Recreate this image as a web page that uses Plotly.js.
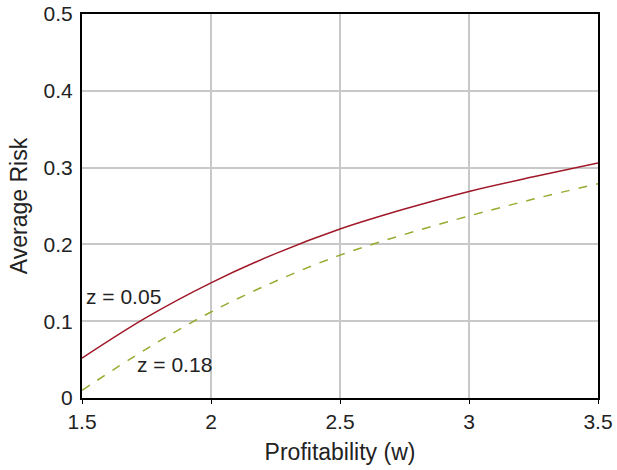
<!DOCTYPE html>
<html><head><meta charset="utf-8">
<script src="https://cdn.plot.ly/plotly-3.0.1.min.js"></script>
<style>body{margin:0;background:#fff}#c{width:617px;height:470px}</style>
</head><body><div id="c"></div>
<script>
const w = [1.5, 1.75, 2.0, 2.25, 2.5, 2.75, 3.0, 3.25, 3.5];
const riskZ005 = [0.052, 0.105, 0.150, 0.188, 0.220, 0.246, 0.269, 0.288, 0.306];
const riskZ018 = [0.010, 0.064, 0.112, 0.152, 0.186, 0.213, 0.237, 0.259, 0.279];
const labels = ["z = 0.05", "z = 0.18"];
const xTicks = [1.5, 2, 2.5, 3, 3.5];
const xTickText = ["1.5", "2", "2.5", "3", "3.5"];
const yTicks = [0, 0.1, 0.2, 0.3, 0.4, 0.5];
const yTickText = ["0", "0.1", "0.2", "0.3", "0.4", "0.5"];
const F = "Liberation Sans, Arial, sans-serif";
const traces = [
  {x: w, y: riskZ005, mode: "lines", line: {color: "#a01828", width: 1.5, shape: "spline"}, name: labels[0]},
  {x: w, y: riskZ018, mode: "lines", line: {color: "#9aaa30", width: 1.5, dash: "dash", shape: "spline"}, name: labels[1]}
];
const layout = {
  width: 617, height: 470,
  margin: {l: 82, r: 19, t: 14, b: 72},
  showlegend: false,
  paper_bgcolor: "#fff", plot_bgcolor: "#fff",
  font: {family: F, size: 21, color: "#222"},
  xaxis: {range: [1.5, 3.5], tickvals: xTicks, ticktext: xTickText, tickfont: {size: 21},
    showgrid: true, gridcolor: "#c8c8c8", gridwidth: 1.5, showline: true, linecolor: "#000", linewidth: 2, mirror: true,
    ticks: "outside", ticklen: 4, tickcolor: "#000", zeroline: false,
    title: {text: "Profitability (w)", font: {size: 23}, standoff: 12}},
  yaxis: {range: [0, 0.5], tickvals: yTicks, ticktext: yTickText, tickfont: {size: 21}, ticklabelstandoff: 3,
    showgrid: true, gridcolor: "#c8c8c8", gridwidth: 1.5, showline: true, linecolor: "#000", linewidth: 2, mirror: true,
    ticks: "", zeroline: false,
    title: {text: "Average Risk", font: {size: 23}, standoff: 10}},
  annotations: [
    {x: 1.5, y: 0.132, xref: "x", yref: "y", text: labels[0], showarrow: false, xanchor: "left", xshift: 2, font: {size: 21, color: "#222"}},
    {x: 1.705, y: 0.043, xref: "x", yref: "y", text: labels[1], showarrow: false, xanchor: "left", font: {size: 21, color: "#222"}}
  ]
};
Plotly.newPlot("c", traces, layout, {displayModeBar: false});
</script></body></html>
